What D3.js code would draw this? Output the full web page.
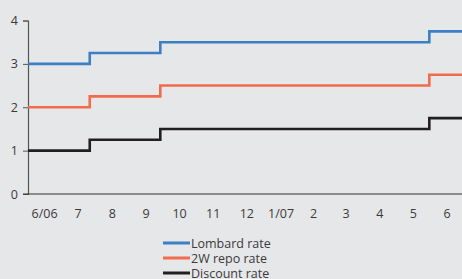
<!DOCTYPE html>
<html>
<head>
<meta charset="utf-8">
<script src="https://cdn.jsdelivr.net/npm/d3@7"></script>
<style>
  body { margin: 0; background: #e6e7e9; }
  svg { display: block; }
  .axis text { font-family: "Open Sans", sans-serif; font-size: 12.5px; fill: #3a3a3a; }
  .legend text { font-family: "Open Sans", sans-serif; font-size: 12.5px; fill: #3a3a3a; }
</style>
</head>
<body>
<div id="chart"></div>
<script>
const parse = d3.timeParse('%Y-%m-%d')

// rate change dates (CNB, 2006-2007)
const changeDates = ['2006-06-01', '2006-07-27', '2006-09-29', '2007-05-31', '2007-06-30']
const lombard = [3.0, 3.25, 3.5, 3.75, 3.75]
const repo = [2.0, 2.25, 2.5, 2.75, 2.75]
const discount = [1.0, 1.25, 1.5, 1.75, 1.75]

const monthLabels = ['6/06', '7', '8', '9', '10', '11', '12', '1/07', '2', '3', '4', '5', '6']
const yTicks = [0, 1, 2, 3, 4]

const seriesNames = ['Lombard rate', '2W repo rate', 'Discount rate']
const seriesColors = ['#3b7fc4', '#f26b4b', '#231f20']

const width = 462
const height = 279

const svg = d3.select('#chart')
  .append('svg')
  .attr('width', width)
  .attr('height', height)

const x = d3.scaleTime()
  .domain([parse('2006-06-01'), parse('2007-07-01')])
  .range([28, 463.5])

const y = d3.scaleLinear()
  .domain([0, 4])
  .range([194, 20.5])

// y axis
const yAxis = svg.append('g')
  .attr('class', 'axis')
  .attr('transform', 'translate(28,0)')
  .call(d3.axisLeft(y).tickValues(yTicks).tickSize(5).tickPadding(5).tickFormat(d3.format('d')))
yAxis.select('.domain').attr('stroke', '#555').attr('stroke-width', 1.2)
yAxis.selectAll('.tick line').attr('stroke', '#555')

// x axis: labels centred in each month
const months = d3.timeMonths(parse('2006-06-01'), parse('2007-07-01'))
const xAxis = svg.append('g').attr('class', 'axis')
xAxis.append('line')
  .attr('x1', 23).attr('x2', width)
  .attr('y1', y(0)).attr('y2', y(0))
  .attr('stroke', '#333').attr('stroke-width', 1.2)
xAxis.selectAll('.mlabel')
  .data(months)
  .enter()
  .append('text')
  .attr('class', 'mlabel')
  .attr('x', d => (x(d) + x(d3.timeMonth.offset(d, 1))) / 2)
  .attr('y', 218)
  .attr('text-anchor', 'middle')
  .text((d, i) => monthLabels[i])

// lines
const allSeries = [lombard, repo, discount]
const line = d3.line()
  .x(d => x(d[0]))
  .y(d => y(d[1]))
  .curve(d3.curveStepAfter)

allSeries.forEach((values, i) => {
  const pts = changeDates.map((d, j) => [parse(d), values[j]])
  svg.append('path')
    .attr('d', line(pts))
    .attr('fill', 'none')
    .attr('stroke', seriesColors[i])
    .attr('stroke-width', 2.6)
})

// legend
const legend = svg.append('g').attr('class', 'legend')
seriesNames.forEach((name, i) => {
  const ly = 243 + i * 15
  legend.append('line')
    .attr('x1', 163).attr('x2', 190)
    .attr('y1', ly).attr('y2', ly)
    .attr('stroke', seriesColors[i])
    .attr('stroke-width', 3)
  legend.append('text')
    .attr('x', 191)
    .attr('y', ly + 4.5)
    .text(name)
})
</script>
</body>
</html>
